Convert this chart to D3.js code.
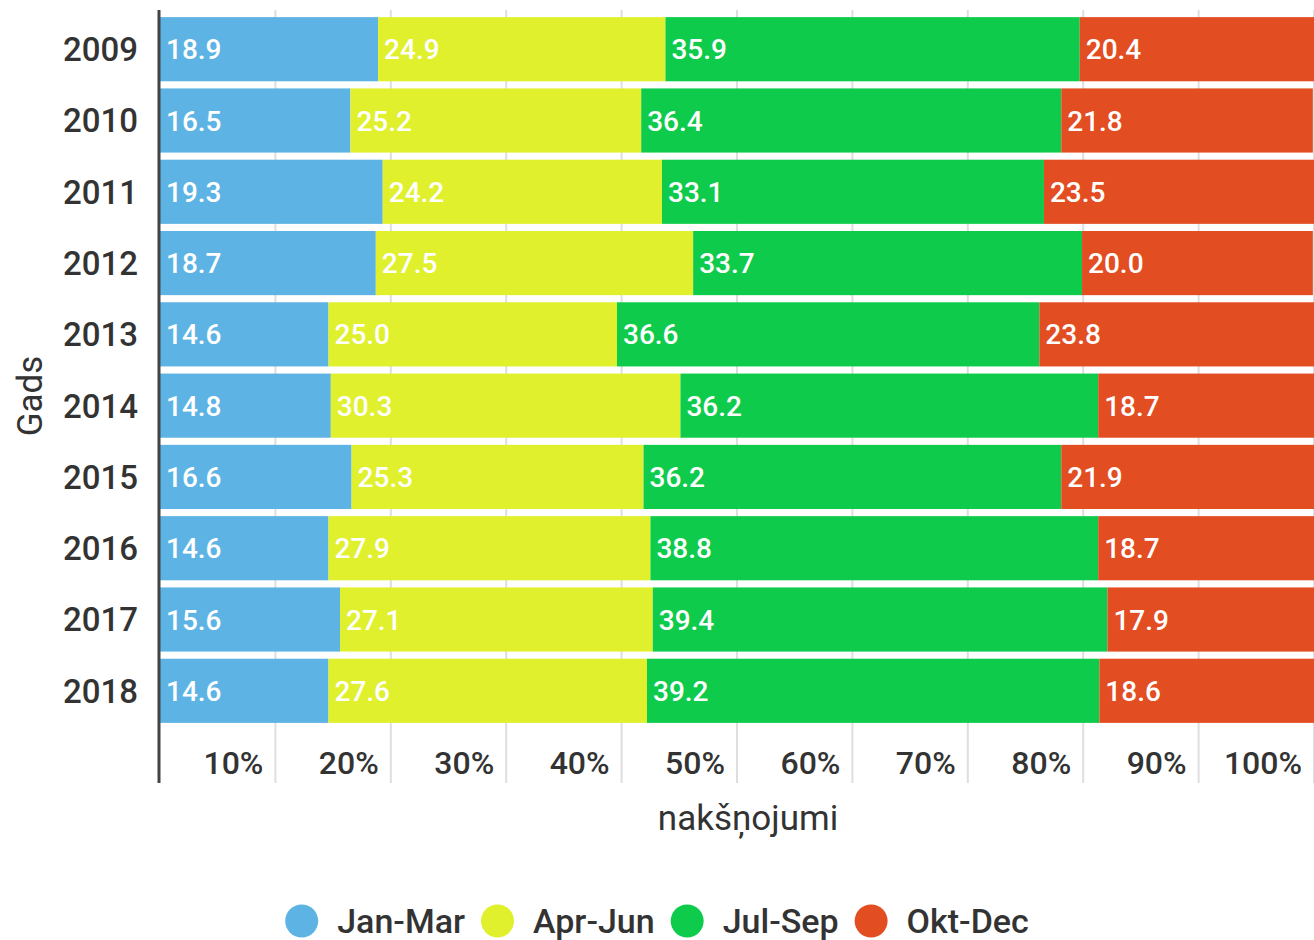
<!DOCTYPE html>
<html>
<head>
<meta charset="utf-8">
<script src="https://cdn.jsdelivr.net/npm/d3@7"></script>
<style>
  body { margin: 0; background: #fff; }
  text { font-family: Roboto, "Noto Sans", sans-serif; }
</style>
</head>
<body>
<div id="chart"></div>
<script>
const years = ["2009", "2010", "2011", "2012", "2013", "2014", "2015", "2016", "2017", "2018"];
const quarters = ["Jan-Mar", "Apr-Jun", "Jul-Sep", "Okt-Dec"];
const janMar = [18.9, 16.5, 19.3, 18.7, 14.6, 14.8, 16.6, 14.6, 15.6, 14.6];
const aprJun = [24.9, 25.2, 24.2, 27.5, 25.0, 30.3, 25.3, 27.9, 27.1, 27.6];
const julSep = [35.9, 36.4, 33.1, 33.7, 36.6, 36.2, 36.2, 38.8, 39.4, 39.2];
const oktDec = [20.4, 21.8, 23.5, 20.0, 23.8, 18.7, 21.9, 18.7, 17.9, 18.6];
const xTicks = [10, 20, 30, 40, 50, 60, 70, 80, 90, 100];
const colors = ["#5db3e4", "#e0f02c", "#0fcb4c", "#e34d22"];

const width = 1314;
const height = 940;
const margin = { top: 10, right: 0, bottom: 210, left: 160 };

const svg = d3.select("#chart")
    .append("svg")
    .attr("width", width)
    .attr("height", height);

// table of rows built from the arrays
const rows = years.map((y, i) => ({
    year: y,
    "Jan-Mar": janMar[i],
    "Apr-Jun": aprJun[i],
    "Jul-Sep": julSep[i],
    "Okt-Dec": oktDec[i]
}));

const stacked = d3.stack().keys(quarters)(rows);

const x = d3.scaleLinear()
    .domain([0, 100])
    .range([margin.left, width - margin.right]);

const y = d3.scaleBand()
    .domain(years)
    .range([margin.top, 730])
    .padding(0.1);

const color = d3.scaleOrdinal().domain(quarters).range(colors);

const axisBottom = 783;

// gridlines
svg.append("g")
    .selectAll("line")
    .data(xTicks)
    .join("line")
    .attr("x1", d => x(d))
    .attr("x2", d => x(d))
    .attr("y1", margin.top)
    .attr("y2", axisBottom)
    .attr("stroke", "#dedede")
    .attr("stroke-width", 2);

// bars
const layers = svg.append("g")
    .selectAll("g")
    .data(stacked)
    .join("g")
    .attr("fill", d => color(d.key));

layers.selectAll("rect")
    .data(d => d)
    .join("rect")
    .attr("x", d => x(d[0]))
    .attr("y", d => y(d.data.year))
    .attr("width", d => x(d[1]) - x(d[0]))
    .attr("height", y.bandwidth());

// value labels
layers.selectAll("text")
    .data(d => d.map(v => ({ v, key: d.key })))
    .join("text")
    .attr("x", d => x(d.v[0]) + 6)
    .attr("y", d => y(d.v.data.year) + y.bandwidth() / 2)
    .attr("dy", "0.36em")
    .attr("fill", "#fff")
    .attr("font-size", 28)
    .attr("font-weight", 500)
    .text(d => d.v.data[d.key].toFixed(1));

// y axis labels
svg.append("g")
    .selectAll("text")
    .data(years)
    .join("text")
    .attr("x", margin.left - 22)
    .attr("y", d => y(d) + y.bandwidth() / 2)
    .attr("dy", "0.36em")
    .attr("text-anchor", "end")
    .attr("fill", "#333")
    .attr("font-size", 33)
    .attr("font-weight", 500)
    .text(d => d);

// y axis line
svg.append("line")
    .attr("x1", margin.left - 1)
    .attr("x2", margin.left - 1)
    .attr("y1", margin.top)
    .attr("y2", axisBottom)
    .attr("stroke", "#444")
    .attr("stroke-width", 3);

// x tick labels
svg.append("g")
    .selectAll("text")
    .data(xTicks)
    .join("text")
    .attr("x", d => x(d) - 12)
    .attr("y", 774)
    .attr("text-anchor", "end")
    .attr("fill", "#333")
    .attr("font-size", 32)
    .attr("font-weight", 500)
    .text(d => d + "%");

// axis titles
svg.append("text")
    .attr("x", 748)
    .attr("y", 830)
    .attr("text-anchor", "middle")
    .attr("fill", "#333")
    .attr("font-size", 35)
    .text("nakšņojumi");

svg.append("text")
    .attr("transform", "rotate(-90)")
    .attr("x", -396)
    .attr("y", 42)
    .attr("text-anchor", "middle")
    .attr("fill", "#333")
    .attr("font-size", 35)
    .text("Gads");

// legend
const legend = svg.append("g");
const items = legend.selectAll("g")
    .data(quarters)
    .join("g");

items.append("circle")
    .attr("r", 16.5)
    .attr("cy", 921)
    .attr("fill", d => color(d));

items.append("text")
    .attr("y", 921)
    .attr("dy", "0.36em")
    .attr("fill", "#333")
    .attr("font-size", 34)
    .attr("font-weight", 500)
    .text(d => d);

const gap = 16;
let cursor = 0;
items.each(function () {
    const w = d3.select(this).select("text").node().getComputedTextLength();
    d3.select(this).select("circle").attr("cx", cursor + 16.5);
    d3.select(this).select("text").attr("x", cursor + 52);
    cursor += 52 + w + gap;
});
const total = cursor - gap;
legend.attr("transform", `translate(${657 - total / 2},0)`);
</script>
</body>
</html>
